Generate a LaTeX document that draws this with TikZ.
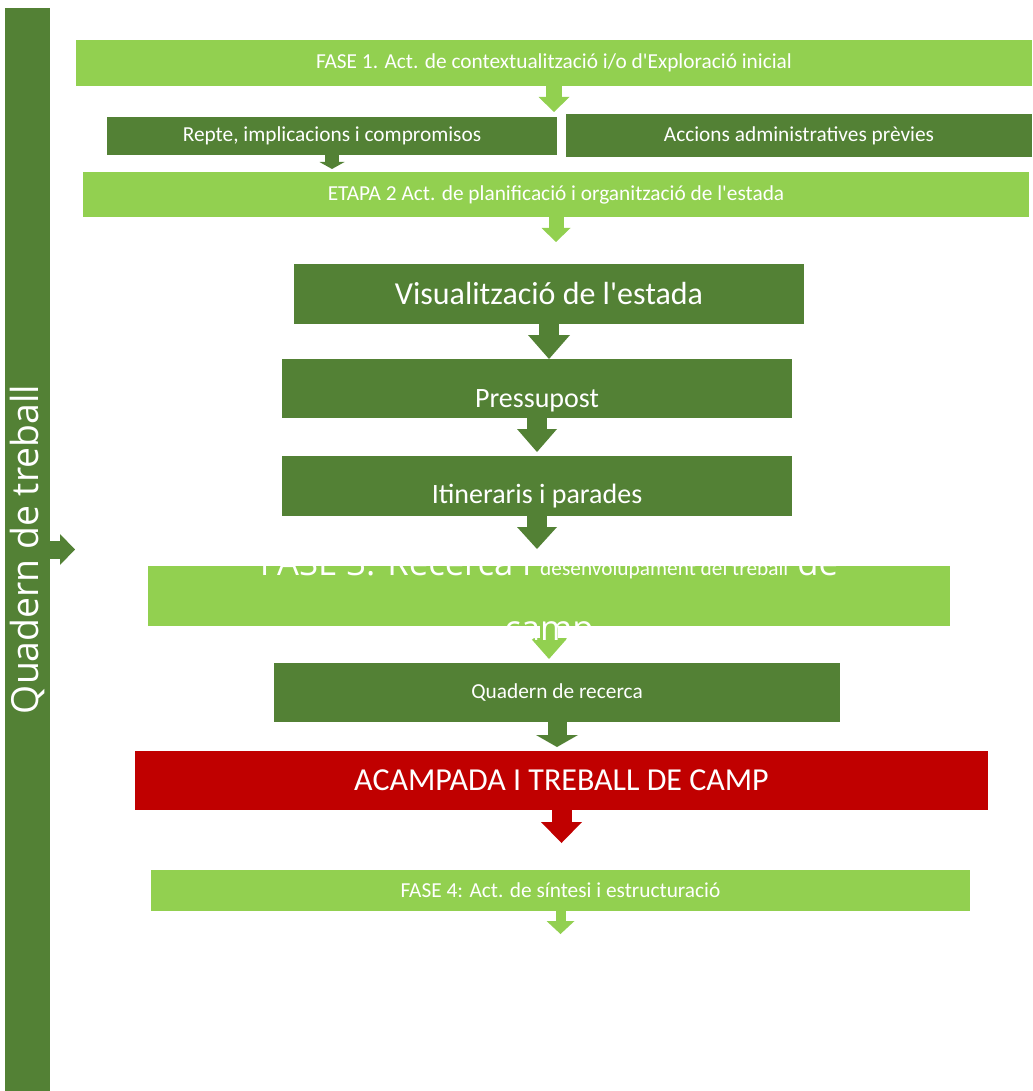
\documentclass[tikz,border=0pt]{standalone}
\usepackage{fontspec}
\setmainfont{Carlito}
\newfontfamily\segoe{Open Sans}
\usetikzlibrary{arrows.meta}
\definecolor{verdfosc}{HTML}{538135}
\definecolor{verdclar}{HTML}{92D050}
\definecolor{vermell}{HTML}{C00000}
\tikzset{
  caixa/.style n args={3}{fill=#3, text=white, inner sep=0pt, outer sep=0pt,
    minimum width=#1*0.75pt, minimum height=#2*0.75pt, align=center},
  fletxa/.style n args={4}{draw=#4, line width=#1*0.75pt,
    -{Triangle[width=#2*0.75pt, length=#3*0.75pt, line width=0pt]}},
  baixa/.style={text height=#1, text depth=0pt},
  petita/.style={font=\fontsize{16}{19}\selectfont},
}
\begin{document}
\begin{tikzpicture}[x=0.75pt,y=-0.75pt]
\useasboundingbox (0,0) rectangle (1032,1091);
% barra lateral
\node[caixa={45}{1083}{verdfosc}] (barra) at (27.5,549.5)
  {\rotatebox{90}{\segoe\fontsize{28}{34}\selectfont Quadern de treball}};
% fase 1 i etapa 2
\node[caixa={956}{46}{verdclar}, petita] (fase1) at (554,63)
  {FASE 1. Act. de contextualització i/o d\textquotesingle Exploració inicial};
\node[caixa={450}{38}{verdfosc}, petita] (repte) at (332,136) {Repte, implicacions i compromisos};
\node[caixa={466}{43}{verdfosc}, petita] (accions) at (799,135.5) {Accions administratives prèvies};
\node[caixa={946}{45}{verdclar}, petita] (etapa2) at (556,194.5)
  {ETAPA 2 Act. de planificació i organització de l\textquotesingle estada};
\node[caixa={510}{60}{verdfosc}, font=\fontsize{24}{29}\selectfont] (visual) at (549,294)
  {Visualització de l\textquotesingle estada};
\node[caixa={510}{59}{verdfosc}, baixa=27.8pt, font=\fontsize{21}{25}\selectfont] (pressu) at (537,388.5) {Pressupost};
\node[caixa={510}{60}{verdfosc}, baixa=25.5pt, font=\fontsize{21}{25}\selectfont] (itiner) at (537,486) {Itineraris i parades};
% fase 3
\node[caixa={802}{60}{verdclar}] (fase3) at (549,596) {};
\node[caixa={566}{59}{verdfosc}, petita] (recerca) at (557,692.5) {Quadern de recerca};
\node[caixa={853}{59}{vermell}, font=\fontsize{24}{29}\selectfont] (acampada) at (561.5,780.5) {ACAMPADA I TREBALL DE CAMP};
% fase 4
\node[caixa={819}{41}{verdclar}, petita] (fase4) at (560.5,890.5) {FASE 4: Act. de síntesi i estructuració};
% fletxes
\draw[fletxa={18}{31}{15}{verdfosc}] (barra.east) -- ++(25,0);
\draw[fletxa={16}{31}{15}{verdclar}] (fase1.south) -- ++(0,26);
\draw[fletxa={14}{25}{7}{verdfosc}] (repte.south) -- ++(0,14);
\draw[fletxa={15}{29}{14}{verdclar}] (etapa2.south) -- ++(0,25);
\draw[fletxa={20}{42}{24}{verdfosc}] (visual.south) -- ++(0,35);
\draw[fletxa={20}{40}{23}{verdfosc}] (pressu.south) -- ++(0,34);
\draw[fletxa={20}{40}{22}{verdfosc}] (itiner.south) -- ++(0,33);
\draw[fletxa={18}{37}{21}{verdclar}] (fase3.south) -- ++(0,33);
\draw[fletxa={19}{42}{12}{verdfosc}] (recerca.south) -- ++(0,25);
\draw[fletxa={20}{41}{21}{vermell}] (acampada.south) -- ++(0,33);
\draw[fletxa={10}{28}{13}{verdclar}] (fase4.south) -- ++(0,23);
% text de la fase 3, per sobre de la fletxa
\node[anchor=north, text=white, align=center, inner sep=0pt,
  font=\segoe\fontsize{26}{48.75}\selectfont] (fase3text) at (549,535)
  {\rule{0pt}{30pt}FASE 3: Recerca i {\normalfont\fontsize{16}{19}\selectfont desenvolupament del treball} de\\camp};
\end{tikzpicture}
\end{document}
